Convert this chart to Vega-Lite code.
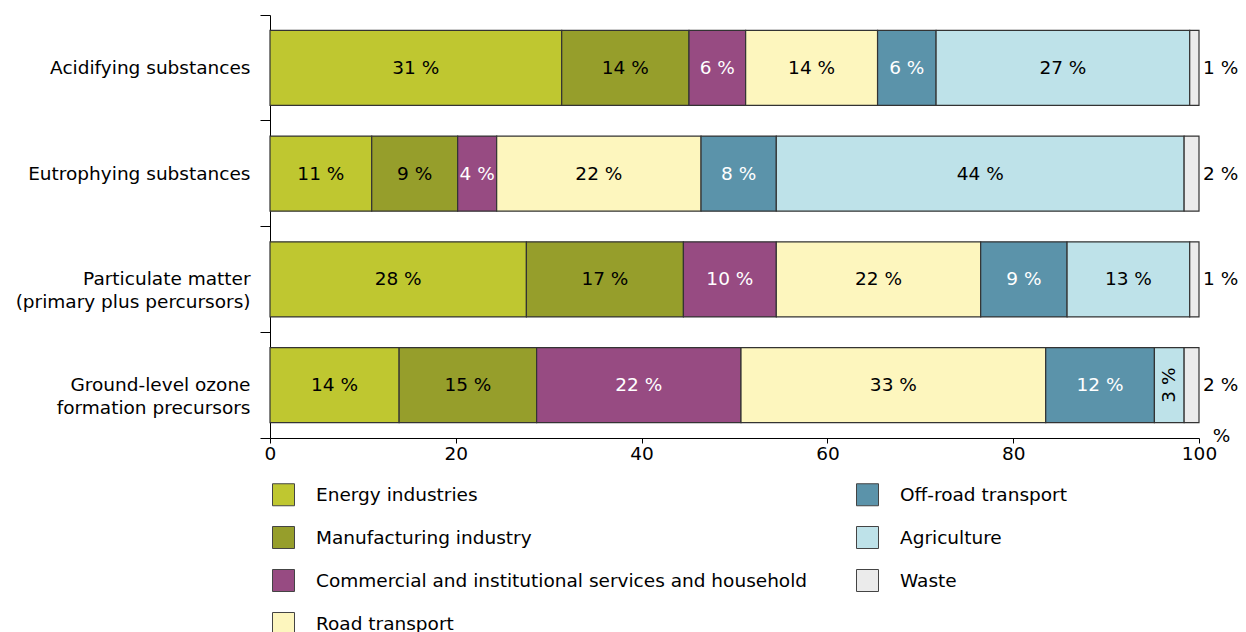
{
  "$schema": "https://vega.github.io/schema/vega-lite/v6.json",
  "autosize": "none",
  "width": 929,
  "height": 423,
  "padding": {"left": 270, "top": 15, "right": 47, "bottom": 194},
  "config": {
    "font": "DejaVu Sans",
    "view": {"stroke": null},
    "axis": {"grid": false}
  },
  "data": {
    "values": [
      {"pollutant": "Acidifying substances", "cat": "Energy industries", "idx": 1, "value": 31.4, "label": "31 %"},
      {"pollutant": "Acidifying substances", "cat": "Manufacturing industry", "idx": 2, "value": 13.7, "label": "14 %"},
      {"pollutant": "Acidifying substances", "cat": "Commercial and institutional services and household", "idx": 3, "value": 6.1, "label": "6 %"},
      {"pollutant": "Acidifying substances", "cat": "Road transport", "idx": 4, "value": 14.2, "label": "14 %"},
      {"pollutant": "Acidifying substances", "cat": "Off-road transport", "idx": 5, "value": 6.3, "label": "6 %"},
      {"pollutant": "Acidifying substances", "cat": "Agriculture", "idx": 6, "value": 27.3, "label": "27 %"},
      {"pollutant": "Acidifying substances", "cat": "Waste", "idx": 7, "value": 1.0, "label": "1 %"},
      {"pollutant": "Eutrophying substances", "cat": "Energy industries", "idx": 1, "value": 10.95, "label": "11 %"},
      {"pollutant": "Eutrophying substances", "cat": "Manufacturing industry", "idx": 2, "value": 9.25, "label": "9 %"},
      {"pollutant": "Eutrophying substances", "cat": "Commercial and institutional services and household", "idx": 3, "value": 4.2, "label": "4 %"},
      {"pollutant": "Eutrophying substances", "cat": "Road transport", "idx": 4, "value": 22.0, "label": "22 %"},
      {"pollutant": "Eutrophying substances", "cat": "Off-road transport", "idx": 5, "value": 8.1, "label": "8 %"},
      {"pollutant": "Eutrophying substances", "cat": "Agriculture", "idx": 6, "value": 43.9, "label": "44 %"},
      {"pollutant": "Eutrophying substances", "cat": "Waste", "idx": 7, "value": 1.6, "label": "2 %"},
      {"pollutant": "Particulate matter|(primary plus percursors)", "cat": "Energy industries", "idx": 1, "value": 27.6, "label": "28 %"},
      {"pollutant": "Particulate matter|(primary plus percursors)", "cat": "Manufacturing industry", "idx": 2, "value": 16.9, "label": "17 %"},
      {"pollutant": "Particulate matter|(primary plus percursors)", "cat": "Commercial and institutional services and household", "idx": 3, "value": 10.0, "label": "10 %"},
      {"pollutant": "Particulate matter|(primary plus percursors)", "cat": "Road transport", "idx": 4, "value": 22.0, "label": "22 %"},
      {"pollutant": "Particulate matter|(primary plus percursors)", "cat": "Off-road transport", "idx": 5, "value": 9.3, "label": "9 %"},
      {"pollutant": "Particulate matter|(primary plus percursors)", "cat": "Agriculture", "idx": 6, "value": 13.2, "label": "13 %"},
      {"pollutant": "Particulate matter|(primary plus percursors)", "cat": "Waste", "idx": 7, "value": 1.0, "label": "1 %"},
      {"pollutant": "Ground-level ozone|formation precursors", "cat": "Energy industries", "idx": 1, "value": 13.9, "label": "14 %"},
      {"pollutant": "Ground-level ozone|formation precursors", "cat": "Manufacturing industry", "idx": 2, "value": 14.8, "label": "15 %"},
      {"pollutant": "Ground-level ozone|formation precursors", "cat": "Commercial and institutional services and household", "idx": 3, "value": 22.0, "label": "22 %"},
      {"pollutant": "Ground-level ozone|formation precursors", "cat": "Road transport", "idx": 4, "value": 32.8, "label": "33 %"},
      {"pollutant": "Ground-level ozone|formation precursors", "cat": "Off-road transport", "idx": 5, "value": 11.7, "label": "12 %"},
      {"pollutant": "Ground-level ozone|formation precursors", "cat": "Agriculture", "idx": 6, "value": 3.2, "label": "3 %"},
      {"pollutant": "Ground-level ozone|formation precursors", "cat": "Waste", "idx": 7, "value": 1.6, "label": "2 %"}
    ]
  },
  "transform": [
    {"stack": "value", "groupby": ["pollutant"], "sort": [{"field": "idx"}], "as": ["x0", "x1"]},
    {"calculate": "(datum.x0 + datum.x1) / 2", "as": "mid"}
  ],
  "encoding": {
    "y": {
      "field": "pollutant",
      "type": "nominal",
      "sort": null,
      "scale": {"paddingInner": 0, "paddingOuter": 0},
      "axis": {
        "title": null,
        "labelExpr": "split(datum.label, '|')",
        "labelFontSize": 18.5,
        "labelLineHeight": 23,
        "labelColor": "#000",
        "labelPadding": 10,
        "labelLimit": 400,
        "tickSize": 10,
        "tickColor": "#000",
        "domainColor": "#000",
        "bandPosition": 1,
        "tickExtra": true
      }
    }
  },
  "layer": [
    {
      "mark": {"type": "bar", "height": {"band": 0.71}, "stroke": "#333", "strokeWidth": 1.2},
      "encoding": {
        "x": {
          "field": "x0",
          "type": "quantitative",
          "scale": {"domain": [0, 100], "nice": false},
          "axis": {
            "values": [0, 20, 40, 60, 80, 100],
            "title": "%",
            "titleFontSize": 18.5,
            "titleFontWeight": "normal",
            "titleX": 951,
            "titleY": -3,
            "titleAlign": "center",
            "titleBaseline": "middle",
            "labelFontSize": 18.5,
            "labelColor": "#000",
            "tickSize": 5,
            "labelPadding": 1,
            "tickColor": "#000",
            "domainColor": "#000",
            "labelFlush": false
          }
        },
        "x2": {"field": "x1"},
        "color": {
          "field": "cat",
          "type": "nominal",
          "scale": {
            "domain": ["Energy industries", "Manufacturing industry", "Commercial and institutional services and household", "Road transport", "Off-road transport", "Agriculture", "Waste"],
            "range": ["#BFC730", "#969E2B", "#974B82", "#FDF6BE", "#5B93AA", "#BEE2E9", "#EBEBEB"]
          },
          "legend": {
            "title": null,
            "orient": "none",
            "legendX": 2,
            "legendY": 468,
            "columns": 2,
            "columnPadding": 46,
            "rowPadding": 16,
            "symbolType": "square",
            "symbolSize": 484,
            "symbolStrokeColor": "#444",
            "symbolStrokeWidth": 1,
            "labelFontSize": 18.5,
            "labelColor": "#000",
            "labelOffset": 21,
            "labelLimit": 700,
            "padding": 0
          }
        }
      }
    },
    {
      "transform": [{"filter": "datum.cat !== 'Waste' && !(datum.cat === 'Agriculture' && datum.value < 5)"}],
      "mark": {"type": "text", "fontSize": 18.5, "baseline": "middle", "align": "center"},
      "encoding": {
        "x": {"field": "mid", "type": "quantitative"},
        "text": {"field": "label"},
        "fill": {
          "condition": {"test": "datum.cat === 'Commercial and institutional services and household' || datum.cat === 'Off-road transport'", "value": "#ffffff"},
          "value": "#000000"
        }
      }
    },
    {
      "transform": [{"filter": "datum.cat === 'Agriculture' && datum.value < 5"}],
      "mark": {"type": "text", "fontSize": 18.5, "baseline": "middle", "align": "center", "angle": 270, "fill": "#000"},
      "encoding": {
        "x": {"field": "mid", "type": "quantitative"},
        "text": {"field": "label"}
      }
    },
    {
      "transform": [{"filter": "datum.cat === 'Waste'"}],
      "mark": {"type": "text", "fontSize": 18.5, "baseline": "middle", "align": "left", "dx": 4, "fill": "#000"},
      "encoding": {
        "x": {"field": "x1", "type": "quantitative"},
        "text": {"field": "label"}
      }
    }
  ]
}
